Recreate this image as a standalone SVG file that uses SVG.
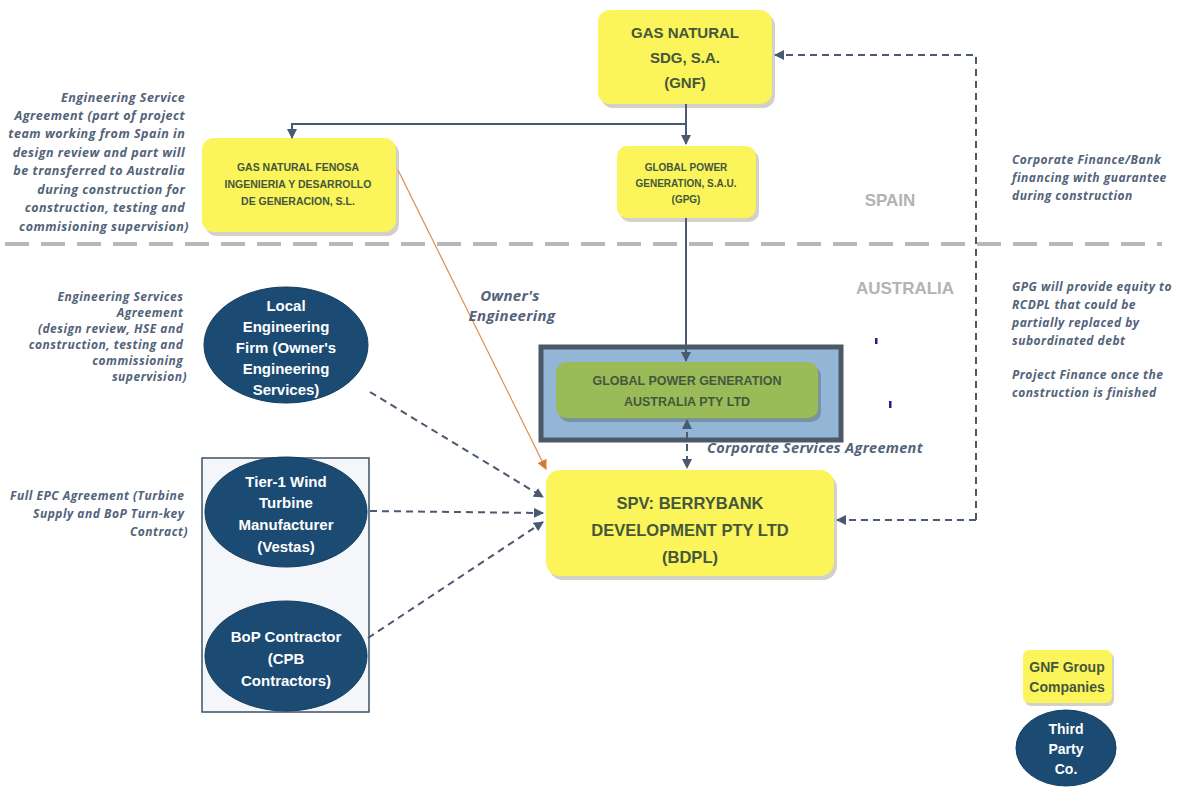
<svg xmlns="http://www.w3.org/2000/svg" width="1184" height="789" viewBox="0 0 1184 789">
<defs>
<marker id="ahb" viewBox="0 0 10 10" refX="9" refY="5" markerWidth="10" markerHeight="10" orient="auto-start-reverse" markerUnits="userSpaceOnUse">
<path d="M0,0 L10,5 L0,10 z" fill="#4a5a70"/>
</marker>
<marker id="aho" viewBox="0 0 10 10" refX="9" refY="5" markerWidth="10" markerHeight="10" orient="auto" markerUnits="userSpaceOnUse">
<path d="M0,0 L10,5 L0,10 z" fill="#d9782f"/>
</marker>
</defs>
<style>
.ybox{fill:#fbf45b;}
.shadow{fill:#9a9a8a;opacity:0.45;}
.btxt{font-family:"Liberation Sans",Arial,sans-serif;font-weight:bold;fill:#44573d;text-anchor:middle;}
.etxt{font-family:"Liberation Sans",Arial,sans-serif;font-weight:bold;fill:#ffffff;text-anchor:middle;font-size:15px;}
.ell{fill:#1b4a72;stroke:#163d5e;stroke-width:1;}
.note{font-family:"Open Sans","Liberation Sans",sans-serif;font-style:italic;font-weight:bold;fill:#52637a;font-size:12px;letter-spacing:0.5px;}
.region{font-family:"Liberation Sans",Arial,sans-serif;font-weight:bold;fill:#b3b3b3;font-size:17px;text-anchor:middle;}
.solid{fill:none;stroke:#4a5a70;stroke-width:2;}
.dash{fill:none;stroke:#4a5a70;stroke-width:2;stroke-dasharray:7 5;}
</style>

<rect width="1184" height="789" fill="#ffffff"/>

<!-- Region divider and labels -->
<g id="divider">
<line x1="5" y1="244" x2="1162" y2="244" stroke="#b8b8b8" stroke-width="4" stroke-dasharray="24 12"/>
<text class="region" x="890" y="206">SPAIN</text>
<text class="region" x="905" y="294">AUSTRALIA</text>
</g>

<!-- Contractor group frame -->
<g id="contractor-frame">
<rect x="202" y="458" width="167" height="254" fill="#f4f6f9" stroke="#3d5166" stroke-width="1.5"/>
</g>

<!-- Corporate Services label (partly behind box) -->
<text class="note" x="707" y="453" style="font-size:14.5px;letter-spacing:0.3px">Corporate Services Agreement</text>

<!-- GNF -->
<g id="gnf">
<rect class="shadow" x="601" y="14" width="174" height="94" rx="12"/>
<rect class="ybox" x="598" y="10" width="174" height="94" rx="12"/>
<text class="btxt" x="685" y="38" font-size="15">GAS NATURAL</text>
<text class="btxt" x="685" y="63" font-size="15">SDG, S.A.</text>
<text class="btxt" x="685" y="88" font-size="15">(GNF)</text>
</g>

<!-- GNF Ingenieria -->
<g id="gnfidg">
<rect class="shadow" x="205" y="142" width="194" height="94" rx="12"/>
<rect class="ybox" x="202" y="138" width="194" height="94" rx="12"/>
<text class="btxt" x="298" y="171" font-size="10.5">GAS NATURAL FENOSA</text>
<text class="btxt" x="298" y="188" font-size="10.5">INGENIERIA Y DESARROLLO</text>
<text class="btxt" x="298" y="205" font-size="10.5">DE GENERACION, S.L.</text>
</g>

<!-- GPG -->
<g id="gpg">
<rect class="shadow" x="620" y="150" width="139" height="72" rx="10"/>
<rect class="ybox" x="617" y="146" width="139" height="72" rx="10"/>
<text class="btxt" x="686" y="171" font-size="10">GLOBAL POWER</text>
<text class="btxt" x="686" y="187" font-size="10">GENERATION, S.A.U.</text>
<text class="btxt" x="686" y="203" font-size="10">(GPG)</text>
</g>

<!-- GPG Australia -->
<g id="gpga">
<rect x="541" y="347" width="300" height="93" fill="#94b6d6" stroke="#4a5868" stroke-width="5"/>
<rect x="559" y="366" width="262" height="56" rx="10" fill="#3f5a3a" opacity="0.35"/>
<rect x="556" y="362" width="262" height="56" rx="10" fill="#9bbb59"/>
<text class="btxt" x="687" y="385" font-size="12.5">GLOBAL POWER GENERATION</text>
<text class="btxt" x="687" y="406" font-size="12.5">AUSTRALIA PTY LTD</text>
</g>

<!-- SPV -->
<g id="spv">
<rect class="shadow" x="549" y="474" width="288" height="106" rx="14"/>
<rect class="ybox" x="546" y="470" width="288" height="106" rx="14"/>
<text class="btxt" x="690" y="509" font-size="16.5">SPV: BERRYBANK</text>
<text class="btxt" x="690" y="536" font-size="16.5">DEVELOPMENT PTY LTD</text>
<text class="btxt" x="690" y="563" font-size="16.5">(BDPL)</text>
</g>

<!-- Local Engineering Firm -->
<g id="local-eng">
<ellipse class="ell" cx="286" cy="345" rx="82" ry="58"/>
<text class="etxt" x="286" y="311">Local</text>
<text class="etxt" x="286" y="332">Engineering</text>
<text class="etxt" x="286" y="353">Firm (Owner's</text>
<text class="etxt" x="286" y="374">Engineering</text>
<text class="etxt" x="286" y="395">Services)</text>
</g>

<!-- Tier-1 -->
<g id="tier1">
<ellipse class="ell" cx="286" cy="512" rx="81" ry="55"/>
<text class="etxt" x="286" y="487">Tier-1 Wind</text>
<text class="etxt" x="286" y="508">Turbine</text>
<text class="etxt" x="286" y="530">Manufacturer</text>
<text class="etxt" x="286" y="552">(Vestas)</text>
</g>

<!-- BoP -->
<g id="bop">
<ellipse class="ell" cx="286" cy="656" rx="81" ry="55"/>
<text class="etxt" x="286" y="642">BoP Contractor</text>
<text class="etxt" x="286" y="664">(CPB</text>
<text class="etxt" x="286" y="686">Contractors)</text>
</g>

<!-- Connectors -->
<g id="connectors">
<path class="solid" d="M686,104 V144" marker-end="url(#ahb)"/>
<path class="solid" d="M686,124 H292 V138" marker-end="url(#ahb)"/>
<path class="solid" d="M686,218 V361" marker-end="url(#ahb)"/>
<path class="dash" d="M687,420 V468" marker-start="url(#ahb)" marker-end="url(#ahb)"/>
<path d="M398,170 L546,469" fill="none" stroke="#e08a4a" stroke-width="1.2" marker-end="url(#aho)"/>
<path class="dash" d="M370,392 L543,497" marker-end="url(#ahb)"/>
<path class="dash" d="M370,511 L543,513" marker-end="url(#ahb)"/>
<path class="dash" d="M368,638 L543,522" marker-end="url(#ahb)"/>
<path class="dash" d="M976,520 V55 H775" marker-end="url(#ahb)"/>
<path class="dash" d="M976,520 H837" marker-end="url(#ahb)"/>
</g>

<!-- Notes -->
<g id="notes">
<text class="note" text-anchor="end" style="font-size:12.5px">
<tspan x="189" y="102">Engineering Service</tspan>
<tspan x="189" y="120">Agreement (part of project</tspan>
<tspan x="189" y="138">team  working from Spain in</tspan>
<tspan x="189" y="157">design review and part will</tspan>
<tspan x="189" y="175">be transferred to Australia</tspan>
<tspan x="189" y="194">during construction for</tspan>
<tspan x="189" y="212">construction, testing and</tspan>
<tspan x="189" y="231">commisioning supervision)</tspan>
</text>
<text class="note" text-anchor="end">
<tspan x="187" y="301">Engineering Services</tspan>
<tspan x="187" y="317">Agreement</tspan>
<tspan x="187" y="333">(design review, HSE and</tspan>
<tspan x="187" y="349">construction, testing and</tspan>
<tspan x="187" y="365">commissioning</tspan>
<tspan x="187" y="381">supervision)</tspan>
</text>
<text class="note" text-anchor="end">
<tspan x="188" y="500">Full EPC Agreement (Turbine</tspan>
<tspan x="188" y="518">Supply and BoP Turn-key</tspan>
<tspan x="188" y="536">Contract)</tspan>
</text>
<text class="note" text-anchor="middle" style="font-size:15px;letter-spacing:0.3px">
<tspan x="512" y="301">Owner's</tspan>
<tspan x="512" y="321">Engineering</tspan>
</text>
<text class="note">
<tspan x="1012" y="164">Corporate Finance/Bank</tspan>
<tspan x="1012" y="182">financing  with guarantee</tspan>
<tspan x="1012" y="200">during construction</tspan>
</text>
<text class="note">
<tspan x="1012" y="291">GPG will provide equity to</tspan>
<tspan x="1012" y="309">RCDPL that could be</tspan>
<tspan x="1012" y="327">partially replaced by</tspan>
<tspan x="1012" y="345">subordinated debt</tspan>
<tspan x="1012" y="379">Project Finance once the</tspan>
<tspan x="1012" y="397">construction is finished</tspan>
</text>
</g>

<!-- stray marks -->
<g id="marks">
<rect x="875" y="338" width="2.5" height="6" fill="#2a1f8a"/>
<rect x="889" y="401" width="2.5" height="7" fill="#2a1f8a"/>
</g>

<!-- Legend -->
<g id="legend-gnf">
<rect class="shadow" x="1025" y="653" width="89" height="53" rx="6"/>
<rect class="ybox" x="1023" y="650" width="89" height="53" rx="6"/>
<text class="btxt" x="1067" y="672" font-size="14">GNF Group</text>
<text class="btxt" x="1067" y="692" font-size="14">Companies</text>
</g>
<g id="legend-third">
<ellipse class="ell" cx="1066" cy="748" rx="50" ry="38"/>
<text class="etxt" x="1066" y="734" style="font-size:14px">Third</text>
<text class="etxt" x="1066" y="754" style="font-size:14px">Party</text>
<text class="etxt" x="1066" y="774" style="font-size:14px">Co.</text>
</g>
</svg>
